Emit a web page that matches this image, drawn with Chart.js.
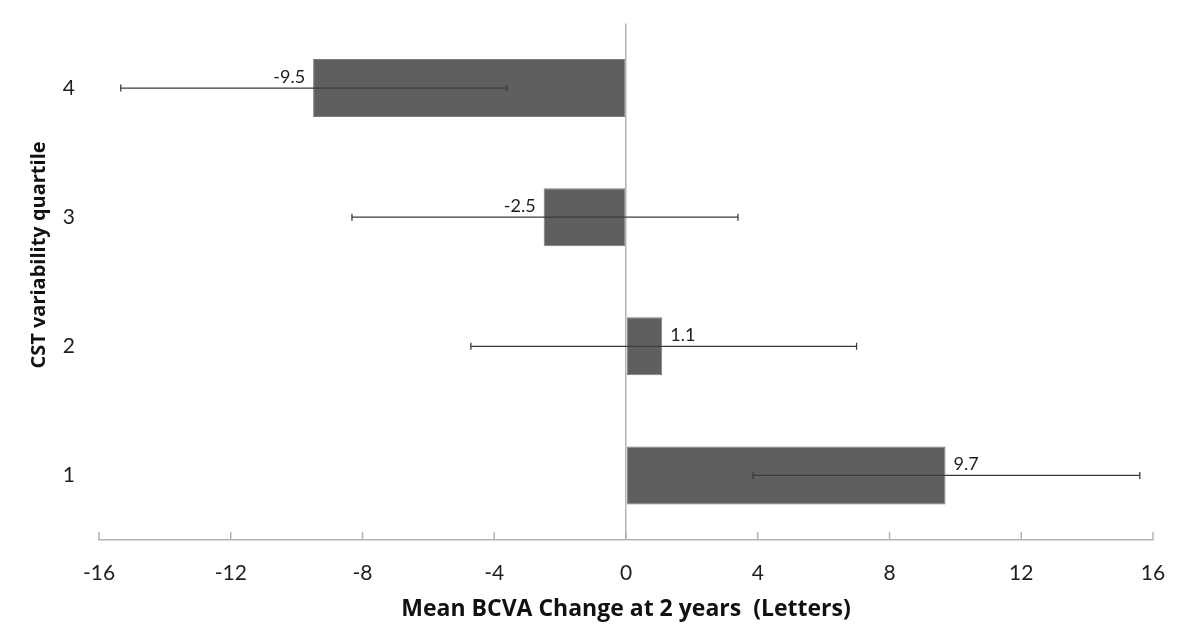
<!DOCTYPE html>
<html>
<head>
<meta charset="utf-8">
<script src="https://cdn.jsdelivr.net/npm/chart.js@4.4.1/dist/chart.umd.min.js"></script>
<style>
  html, body { margin: 0; padding: 0; background: #fff; }
  #wrap { width: 1202px; height: 640px; }
</style>
</head>
<body>
<div id="wrap"><canvas id="c" width="1202" height="640"></canvas></div>
<script>
const categories = ['4', '3', '2', '1'];
const meanChange = [-9.5, -2.5, 1.1, 9.7];
const errLow = [-15.34, -8.32, -4.71, 3.86];
const errHigh = [-3.62, 3.40, 7.0, 15.6];
const valueLabels = ['-9.5', '-2.5', '1.1', '9.7'];
const xTicks = [-16, -12, -8, -4, 0, 4, 8, 12, 16];
const xTitle = 'Mean BCVA Change at 2 years  (Letters)';
const yTitle = 'CST variability quartile';

const FONT = 'Lato, "Open Sans", sans-serif';
const TFONT = '"Open Sans", "Noto Sans", sans-serif';

const overlayPlugin = {
  id: 'overlay',
  afterDatasetsDraw(chart) {
    const ctx = chart.ctx;
    const xs = chart.scales.x;
    const meta = chart.getDatasetMeta(0);
    ctx.save();
    // error bars
    ctx.strokeStyle = '#3c3c3c';
    ctx.lineWidth = 1.3;
    meta.data.forEach((bar, i) => {
      const y = bar.y;
      const x1 = xs.getPixelForValue(errLow[i]);
      const x2 = xs.getPixelForValue(errHigh[i]);
      ctx.beginPath();
      ctx.moveTo(x1, y); ctx.lineTo(x2, y);
      ctx.moveTo(x1, y - 3.5); ctx.lineTo(x1, y + 3.5);
      ctx.moveTo(x2, y - 3.5); ctx.lineTo(x2, y + 3.5);
      ctx.stroke();
    });
    // value labels
    ctx.fillStyle = '#1e1e1e';
    ctx.font = '18px ' + FONT;
    ctx.textBaseline = 'middle';
    meta.data.forEach((bar, i) => {
      const v = meanChange[i];
      const xe = xs.getPixelForValue(v);
      if (v < 0) {
        ctx.textAlign = 'right';
        ctx.fillText(valueLabels[i], xe - 8, bar.y - 11);
      } else {
        ctx.textAlign = 'left';
        ctx.fillText(valueLabels[i], xe + 8, bar.y - 11);
      }
    });
    // inward tick marks on x axis
    const area = chart.chartArea;
    ctx.strokeStyle = '#b4b4b4';
    ctx.lineWidth = 1.5;
    xTicks.forEach(t => {
      const x = xs.getPixelForValue(t);
      ctx.beginPath();
      ctx.moveTo(x, area.bottom);
      ctx.lineTo(x, area.bottom - 8);
      ctx.stroke();
    });
    // y axis title
    ctx.fillStyle = '#111';
    ctx.font = 'bold 20px ' + TFONT;
    ctx.textAlign = 'center';
    ctx.textBaseline = 'middle';
    ctx.translate(39, 255);
    ctx.rotate(-Math.PI / 2);
    ctx.fillText(yTitle, 0, 0);
    ctx.restore();
  }
};

new Chart(document.getElementById('c'), {
  type: 'bar',
  data: {
    labels: categories,
    datasets: [{
      data: meanChange,
      backgroundColor: '#5f5f5f',
      borderColor: '#7c7c7c',
      borderWidth: 1,
      borderSkipped: false,
      barPercentage: 0.45,
      categoryPercentage: 1.0
    }]
  },
  options: {
    indexAxis: 'y',
    responsive: false,
    animation: false,
    devicePixelRatio: 1,
    layout: { padding: { top: 23.5, right: 49, left: 0, bottom: 0 } },
    plugins: { legend: { display: false }, tooltip: { enabled: false } },
    scales: {
      x: {
        type: 'linear',
        min: -16, max: 16,
        afterBuildTicks(scale) { scale.ticks = xTicks.map(v => ({ value: v })); },
        afterFit(scale) {
          scale.height = 100;
          scale.paddingLeft = 0; scale.paddingRight = 0;
        },
        ticks: {
          color: '#1e1e1e',
          font: { family: FONT, size: 21 },
          padding: 21,
          callback: v => String(v)
        },
        grid: {
          drawTicks: false,
          color: ctx => (ctx.tick && ctx.tick.value === 0) ? '#b4b4b4' : 'rgba(0,0,0,0)',
          lineWidth: 1.5
        },
        border: { display: true, color: '#b4b4b4', width: 1.5 },
        title: {
          display: true,
          text: xTitle,
          color: '#111',
          font: { family: TFONT, size: 23, weight: 'bold' },
          padding: { top: 0, bottom: 17 }
        }
      },
      y: {
        afterFit(scale) {
          scale.width = 99;
          scale.paddingTop = 0; scale.paddingBottom = 0;
        },
        ticks: {
          color: '#1e1e1e',
          font: { family: FONT, size: 21 },
          padding: 24
        },
        grid: { display: false, drawTicks: false },
        border: { display: false },
        title: { display: false }
      }
    }
  },
  plugins: [overlayPlugin]
});
</script>
</body>
</html>
